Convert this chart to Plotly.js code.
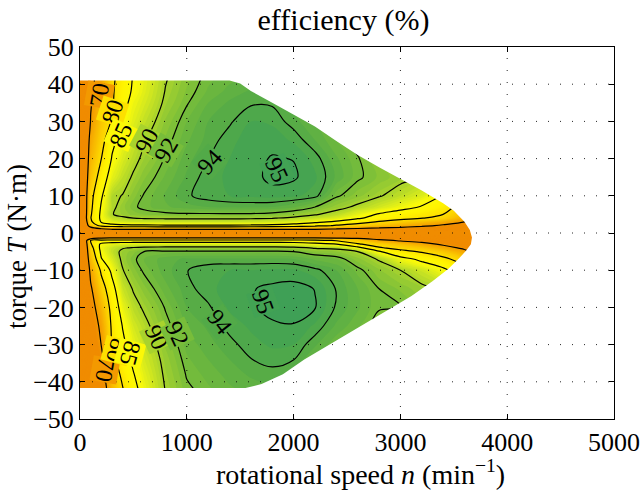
<!DOCTYPE html>
<html><head><meta charset="utf-8">
<script src="https://cdn.plot.ly/plotly-3.0.1.min.js"></script>
<style>html,body{margin:0;padding:0;background:#fff}#chart{width:642px;height:495px}</style>
</head><body><div id="chart"></div>
<script>
// rotational speed grid (min^-1) and torque grid (N·m)
const speed  = [0,100,200,300,400,500,600,800,1000,1200,1400,1600,1800,2000,2200,2400,2600,2800,3000,3200,3400,3600,3700];
const torque = [-42,-38,-34,-30,-25,-20,-15,-10,-7,-5,-4,-3,-2,-1,0,1,2,3,4,5,7,10,15,20,25,30,35,38,42];

// efficiency (%) rows, one per torque value
const eff_m42 = [52,61,66,74,79.8,83.8,86.5,90.1,91.8,92.4,92.9,93.2,93.3,93,91.5,90.5,89.7,88.6,87.5,87.8,86.5,85,84];
const eff_m38 = [52,62,67,76.4,81.3,84.8,87.2,90.4,92.1,92.7,93.2,93.6,93.8,93.5,92.2,91.2,90.4,89.3,88.3,88.5,87.2,86,85];
const eff_m34 = [52,63,68,78.5,83,85.8,87.9,90.7,92.4,93.0,93.5,93.98,94.2,94.02,92.9,91.9,91.1,90,89,89.2,88,86.8,85.8];
const eff_m30 = [52,64,70.2,80.2,84.2,86.9,88.6,91.1,92.7,93.3,93.8,94.3,94.6,94.5,93.6,92.6,91.8,90.7,89.8,90,88.8,87.5,86.5];
const eff_m25 = [52,65.5,71.5,81,85.2,88,89.4,91.6,93.1,93.6,94.2,94.6,94.9,94.95,94.4,93.4,92.6,91.5,90.8,90.8,89.7,88.2,87];
const eff_m20 = [52,67,74,82,86.8,89.2,90.3,92.1,93.5,93.9,94.6,94.9,95.2,95.3,95.05,93.9,93.1,92.1,92.1,91.2,90.3,88,84];
const eff_m15 = [52,69,77.5,83.5,88.5,90.2,91.3,92.8,93.8,94.3,94.8,94.95,95.15,95.25,94.98,93.95,93.0,92.0,91.4,90.6,89.5,86.5,82];
const eff_m10 = [52,72,81,86,89.9,91.3,92.2,93.3,93.97,94.4,94.5,94.5,94.6,94.6,94.2,93.5,92.3,91.1,90,88.3,86,82,77];
const eff_m7  = [52,75,84.8,87.8,90.6,91.8,92.5,93.3,93.6,93.6,93.6,93.6,93.6,93.5,92.9,92.5,91.2,89.8,86.5,84,81.5,77,72];
const eff_m5  = [52,77,86,88.8,90.6,91.3,92.0,92.2,92.2,92.2,92.2,92.2,92.2,92.0,91.3,91.0,90,85.5,81.5,79.5,76.5,72,67];
const eff_m4  = [52,78,86.5,88.5,89.8,90.3,90.6,90.8,90.8,90.8,90.8,90.8,90.8,90.6,89.8,89.5,86.5,80.5,78.5,76.5,73,68.5,63];
const eff_m3  = [52,79.5,86,87,87.4,87.5,87.5,87.6,87.6,87.6,87.6,87.6,87.6,87.4,86.3,85.1,80.5,78,75.5,72.5,68.8,64.5,59];
const eff_m2  = [52,80,82,82,82,82,82,82,82,82,82,82,82,82,81.5,79.5,77,72,69,67,64,60,55];
const eff_m1  = [30,58,63,64.5,65,65,65,65,65,65,65,65,65,65,65,64.5,64,63,62,60.5,58.5,55,50];
const eff_0   = [20,35,35,35,35,35,35,35,35,35,35,35,35,35,35,35,35,35,35,35,35,35,30];
const eff_p1  = [30,62,68,70,70.5,71,71,71,71,71,71,71,70.8,70.5,70,69,68,67,66,64.5,62,56,50];
const eff_p2  = [50,76,82,83.5,84,84.2,84.3,84.4,84.4,84.4,84.4,84.3,84.0,83.2,81.5,79.5,77.5,75.5,73.5,71.5,69,64,58];
const eff_p3  = [53,79,85.5,87.3,88,88.3,88.5,88.6,88.6,88.6,88.6,88.5,88.2,87.4,85.9,84.3,82.4,79.5,77.5,75.6,73.5,70,65];
const eff_p4  = [55,79.8,86,88.7,89.6,90,90.2,90.3,90.3,90.3,90.3,90.3,90.1,89.6,88.8,87.6,85.5,83.5,81.7,80.2,78.5,73,70];
const eff_p5  = [55,79.5,86,89.9,90.6,91.2,91.5,91.7,91.8,91.8,91.8,91.8,91.6,91.0,90.2,89.2,87,84.6,83,81.5,80,75,72];
const eff_p7  = [55,79,85.5,89.5,90.8,91.8,92.3,92.9,93.3,93.5,93.6,93.6,93.5,93.1,92.0,90.7,89.6,88.2,86.5,84.7,82,78,75];
const eff_p10 = [55,78.5,84.5,89.5,90.1,91.3,92.1,93.1,93.9,94.3,94.5,94.6,94.7,94.6,94.3,92.2,91.2,90.2,89,87.5,84.8,81,78];
const eff_p15 = [55,76,82.5,87,89,90.3,91.4,92.6,93.6,94.3,94.6,94.75,95.2,95.1,94.6,93.4,92.2,91.4,90.6,89.9,88.5,86.5,85];
const eff_p20 = [55,74,80,85.3,87.7,89.3,90.5,92.1,93.3,93.98,94.5,94.8,95.05,94.98,94.3,93.1,92.1,90.9,89.7,88.4,87,85.5,84.7];
const eff_p25 = [55,72.5,78,84,86.5,88.3,89.8,91.6,92.9,93.7,94.3,94.8,94.8,94.4,93.5,92.5,91.5,90.5,89.4,88.2,87,85.7,85];
const eff_p30 = [55,70.3,76.5,80.5,85.3,87.3,88.8,91.1,92.5,93.5,93.9,94.5,94.4,93.7,93.0,92.0,91.0,90.0,89.0,88.2,87,85.8,85];
const eff_p35 = [55,69.5,74.5,79.5,83.5,86.5,87.8,90.4,91.9,93.0,93.6,93.9,93.9,93.2,92.5,91.6,90.6,89.6,88.6,88,87.6,86.4,85.6];
const eff_p38 = [55,69.2,73,79.3,83,85.6,87.3,90.1,91.6,92.6,93.2,93.6,93.6,92.9,92.2,91.3,90.3,89.3,88.3,87.8,87.5,86.3,85.5];
const eff_p42 = [55,69,71.5,79,82.3,85.3,87,89.8,91.3,92.3,92.8,93.0,93.0,92.5,91.9,91,90,89,88,87.5,88,87,86];

const efficiency = [eff_m42,eff_m38,eff_m34,eff_m30,eff_m25,eff_m20,eff_m15,eff_m10,eff_m7,eff_m5,eff_m4,eff_m3,eff_m2,eff_m1,
  eff_0,eff_p1,eff_p2,eff_p3,eff_p4,eff_p5,eff_p7,eff_p10,eff_p15,eff_p20,eff_p25,eff_p30,eff_p35,eff_p38,eff_p42];

// operating-area boundary (torque limit), clockwise from top-left
const boundarySpeed  = [0,1400,1500,1600,1800,2000,2200,2400,2600,2800,3000,3200,3400,3500,3600,3650,3670,3660,3620,3550,3450,3300,3100,2900,2700,2500,2300,2100,1900,1700,1550,0];
const boundaryTorque = [41,41,40.2,38.2,35,31.8,28.6,24.7,21,17.7,14.6,11.4,8,6,3,0.8,-1.2,-3,-4.6,-6.8,-9.6,-13,-17,-20.4,-23.7,-27,-30.4,-34,-38,-40.6,-41.7,-41.7];

// contour line levels and their inline labels (label position)
const lineLevels  = [70,80,85,90,92,94,95];
const labelLevel  = [70,80,85,90,92,94,95, 70,80,85,90,92,94,95];
const labelSpeed  = [185,305,385,625,805,1215,1845, 235,343,468,718,905,1311,1716];
const labelTorque = [37,32.5,26.3,24.7,22.3,19,17, -36.8,-31.5,-32.3,-27.9,-27,-23.8,-18.5];
const labelAngle  = [-80,-72,-66,-62,-60,-48,65, 100,105,105,65,65,52,70];

const xTicks = [0,1000,2000,3000,4000,5000];
const yTicks = [-50,-40,-30,-20,-10,0,10,20,30,40,50];

const FONT = 'Liberation Serif, Times New Roman, serif';
const zLo = 50, zHi = 97;
const stops = [[50,[240,140,0]],[68,[240,140,0]],[72,[245,165,0]],[78,[252,210,0]],
  [83,[255,245,0]],[86,[250,250,10]],[88,[212,233,30]],[90,[168,211,45]],
  [92,[120,189,58]],[94,[82,170,72]],[95.2,[63,160,86]],[97,[55,152,95]]];
const rgb = c => 'rgb(' + c.map(Math.round).join(',') + ')';
const colorscale = stops.map(s => [(s[0]-zLo)/(zHi-zLo), rgb(s[1])]);
function colorAt(v) {
  for (let i = 1; i < stops.length; i++) {
    if (v <= stops[i][0]) {
      const a = stops[i-1], b = stops[i], t = (v - a[0]) / (b[0] - a[0]);
      return rgb(a[1].map((c, k) => c + t * (b[1][k] - c)));
    }
  }
  return rgb(stops[stops.length-1][1]);
}

const traces = [{
  type:'contour', x:speed, y:torque, z:efficiency,
  autocontour:false, contours:{start:zLo, end:zHi, size:0.5, coloring:'fill', showlines:false},
  colorscale:colorscale, zmin:zLo, zmax:zHi, showscale:false, line:{width:0}, hoverinfo:'skip'
}];
lineLevels.forEach(L => traces.push({
  type:'contour', x:speed, y:torque, z:efficiency, autocontour:false,
  contours:{start:L, end:L, size:1, coloring:'none', showlabels:false},
  line:{color:'black', width:1.2, smoothing:1}, showscale:false, hoverinfo:'skip'
}));

// white mask outside the operating area
const xmin = xTicks[0]-200, xmax = xTicks[xTicks.length-1]+200;
const ymin = yTicks[0]-10, ymax = yTicks[yTicks.length-1]+10;
const maskX = [xmin, xmin].concat(boundarySpeed, [xmin, xmin, xmax, xmax, xmin]);
const maskY = [ymax, boundaryTorque[0]].concat(boundaryTorque, [boundaryTorque[boundaryTorque.length-1], ymin, ymin, ymax, ymax]);
traces.push({type:'scatter', mode:'lines', x:maskX, y:maskY, fill:'toself', fillcolor:'#ffffff',
  line:{width:0, color:'rgba(0,0,0,0)'}, hoverinfo:'skip', showlegend:false});

const dotted = {color:'rgba(0,0,0,0.85)', width:1, dash:'1px,11px'};
const shapes = [];
xTicks.slice(1,-1).forEach(v => shapes.push({type:'line', layer:'above', xref:'x', yref:'y',
  x0:v, x1:v, y0:yTicks[0], y1:yTicks[yTicks.length-1], line:dotted}));
yTicks.slice(1,-1).forEach(v => shapes.push({type:'line', layer:'above', xref:'x', yref:'y',
  x0:xTicks[0], x1:xTicks[xTicks.length-1], y0:v, y1:v, line:dotted}));

const annotations = labelLevel.map((L, i) => ({
  xref:'x', yref:'y', x:labelSpeed[i], y:labelTorque[i], text:String(L), showarrow:false,
  textangle:labelAngle[i], font:{family:FONT, size:24, color:'black'},
  bgcolor:colorAt(L), borderpad:0, xanchor:'center', yanchor:'middle'
}));
annotations.push({xref:'paper', yref:'paper', x:0.526, y:-0.143, xanchor:'center', yanchor:'middle',
  showarrow:false, text:'rotational speed <i>n</i> (min<sup>−1</sup>)',
  font:{family:FONT, size:28, color:'black'}});
annotations.push({xref:'paper', yref:'paper', x:-0.118, y:0.465, xanchor:'center', yanchor:'middle',
  showarrow:false, textangle:-90, text:'torque <i>T</i> (N·m)',
  font:{family:FONT, size:27, color:'black'}});

const axisCommon = {showline:true, linecolor:'black', linewidth:1, mirror:'ticks', ticks:'inside',
  ticklen:5, tickcolor:'black', showgrid:false, zeroline:false,
  tickfont:{family:FONT, size:26, color:'black'}};

const layout = {
  width:642, height:495, margin:{l:80, r:28, t:47, b:76},
  paper_bgcolor:'white', plot_bgcolor:'white', showlegend:false,
  font:{family:FONT, color:'black'},
  title:{text:'efficiency (%)', font:{family:FONT, size:30, color:'black'}, x:0.535, xanchor:'center', y:0.96, yanchor:'middle'},
  xaxis:Object.assign({}, axisCommon, {range:[xTicks[0], xTicks[xTicks.length-1]], tickvals:xTicks}),
  yaxis:Object.assign({}, axisCommon, {range:[yTicks[0], yTicks[yTicks.length-1]], tickvals:yTicks}),
  shapes:shapes, annotations:annotations
};

Plotly.newPlot('chart', traces, layout, {staticPlot:true, displayModeBar:false});
</script></body></html>
